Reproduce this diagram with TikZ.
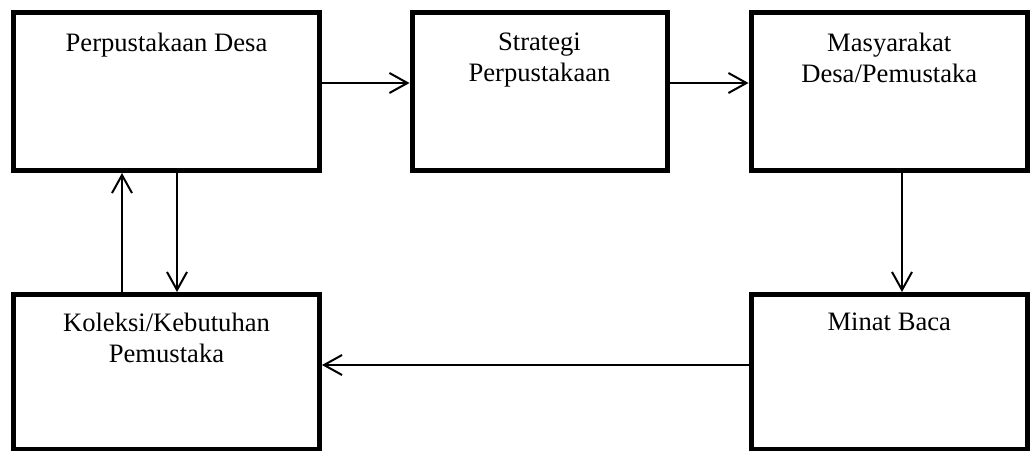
\documentclass[tikz,border=0pt]{standalone}
\usepackage{fontspec}
\setmainfont{Liberation Serif}
\usetikzlibrary{arrows.meta}
\begin{document}
\begin{tikzpicture}[x=1pt,y=-1pt,
  boxnode/.style={draw, line width=5pt, rectangle, inner sep=0pt},
  lbl/.style={anchor=north, align=center, inner sep=0pt, font=\fontsize{26.6}{30.8}\selectfont},
  conn/.style={line width=2pt, -{Straight Barb[length=18pt,width=20pt]}}]
\useasboundingbox (0,0) rectangle (1032,450);
% boxes
\node[boxnode, minimum width=306pt, minimum height=158pt] (b1) at (166.5,91.5) {};
\node[boxnode, minimum width=255pt, minimum height=158pt] (b2) at (539.5,91.5) {};
\node[boxnode, minimum width=276.5pt, minimum height=158pt] (b3) at (889.25,91.5) {};
\node[boxnode, minimum width=306pt, minimum height=155pt] (b4) at (166.5,372) {};
\node[boxnode, minimum width=276.5pt, minimum height=155pt] (b5) at (889.25,372) {};
% labels
\node[lbl] (t1) at ([yshift=-22.8pt]b1.north) {Perpustakaan Desa};
\node[lbl] (t2) at ([yshift=-22.8pt]b2.north) {Strategi\\Perpustakaan};
\node[lbl] (t3) at ([yshift=-22.8pt]b3.north) {Masyarakat\\Desa/Pemustaka};
\node[lbl] (t4) at ([yshift=-21pt]b4.north) {Koleksi/Kebutuhan\\Pemustaka};
\node[lbl] (t5) at ([yshift=-21pt]b5.north) {Minat Baca};
% connectors
\draw[conn] ([yshift=8.5pt]b1.east) -- ([yshift=8.5pt]b2.west);
\draw[conn] ([yshift=8.5pt]b2.east) -- ([yshift=8.5pt]b3.west);
\draw[conn] ([xshift=12.75pt]b3.south) -- ([xshift=12.75pt]b5.north);
\draw[conn] ([yshift=7pt]b5.west) -- ([yshift=7pt]b4.east);
\draw[conn] ([xshift=-44.5pt]b4.north) -- ([xshift=-44.5pt]b1.south);
\draw[conn] ([xshift=10.5pt]b1.south) -- ([xshift=10.5pt]b4.north);
\end{tikzpicture}
\end{document}
